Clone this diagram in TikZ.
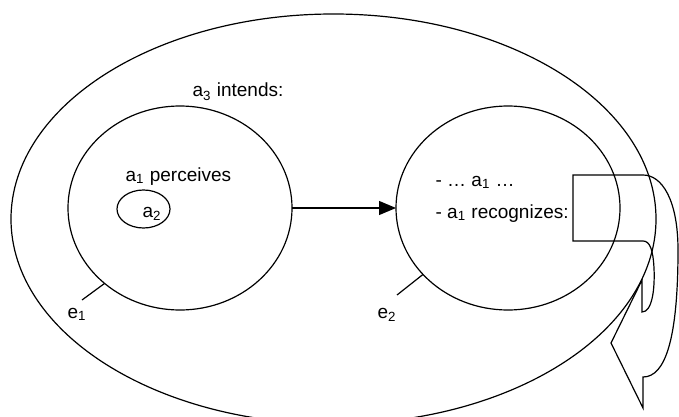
\documentclass[tikz,border=0pt]{standalone}
\usepackage{fontspec}
\setmainfont{Liberation Sans}
\usetikzlibrary{shapes,arrows.meta}

\begin{document}
\begin{tikzpicture}[x=0.5pt,y=-0.5pt,line width=0.6pt]
  \tikzstyle{every node}=[font=\fontsize{9.5}{11}\selectfont]
  \tikzstyle{oval}=[ellipse,draw,inner sep=0pt,outer sep=0pt]
  \tikzstyle{txt}=[anchor=base west,inner sep=0pt]
  \useasboundingbox (0,0) rectangle (679,417);
  \node[oval,minimum width=322.5pt,minimum height=205pt] (world) at (333.5,219) {};
  \node[oval,minimum width=112pt,minimum height=102pt] (lc) at (180,208) {};
  \node[oval,minimum width=112pt,minimum height=102pt] (rc) at (508,208) {};
  \node[oval,minimum width=26.5pt,minimum height=19pt] (sc) at (143.5,209) {};
  \node[txt] (intends) at (192,97) {a\textsubscript{3} intends:};
  \node[txt] (perc) at (125,181) {a\textsubscript{1} perceives};
  \node[txt] (a2) at (142,217) {a\textsubscript{2}};
  \node[txt] (dots) at (435,186) {- … a\textsubscript{1} …};
  \node[txt] (recog) at (435,218) {- a\textsubscript{1} recognizes:};
  \node[txt] (e1) at (67,318) {e\textsubscript{1}};
  \node[txt] (e2) at (377,318) {e\textsubscript{2}};
  \coordinate (t1) at (82,300);
  \coordinate (t2) at (397,295);
  \draw[-{Triangle[length=8.5pt,width=7pt]}] (lc.east) -- (rc.west);
  \draw (lc.225) -- (t1);
  \draw (rc.218) -- (t2);
  \draw (573,175) -- (643,175) .. controls (662,175) and (678,200) .. (678,250)
    .. controls (678,340) and (665,377) .. (643,377) -- (643,408) -- (611,343)
    -- (642,280) -- (642,312) .. controls (652,312) and (655,290) .. (654,268)
    .. controls (653,250) and (650,241) .. (643,241) -- (573,241) -- cycle;
\end{tikzpicture}
\end{document}
